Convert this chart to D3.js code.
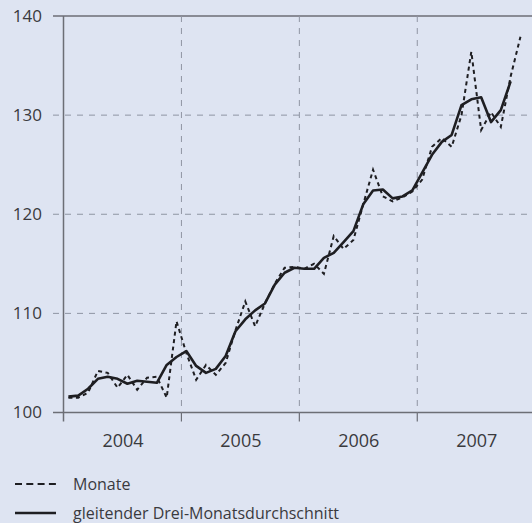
<!DOCTYPE html>
<html>
<head>
<meta charset="utf-8">
<script src="https://cdn.jsdelivr.net/npm/d3@7"></script>
<style>
  html, body { margin: 0; padding: 0; background: #dee4f2; }
  svg { display: block; }
  text { font-family: "Open Sans", sans-serif; fill: #3a3a3e; }
</style>
</head>
<body>
<svg id="chart" width="532" height="523"></svg>
<script>
// ---- data ----
const years = ["2004", "2005", "2006", "2007"];
const yTicks = [100, 110, 120, 130, 140];
// monthly values, Jan 2004 – Nov 2007
const monate = [
  101.5, 101.5, 102.0, 104.2, 104.0, 102.5, 103.8, 102.3, 103.5, 103.6, 101.5, 109.2,
  106.0, 103.3, 104.8, 103.8, 105.0, 108.3, 111.2, 108.7, 111.0, 113.0, 114.6, 114.7,
  114.5, 115.0, 114.0, 117.8, 116.5, 117.4, 121.0, 124.5, 121.8, 121.3, 121.7, 122.3,
  123.5, 126.8, 127.7, 126.8, 130.0, 136.4, 128.5, 130.3, 128.8, 133.9, 137.9
];
// three-month moving average, Jan 2004 – Oct 2007
const durchschnitt = [
  101.6, 101.7, 102.4, 103.4, 103.6, 103.4, 102.9, 103.2, 103.1, 103.0, 104.8, 105.6,
  106.2, 104.7, 104.0, 104.4, 105.7, 108.2, 109.4, 110.3, 111.0, 112.9, 114.1, 114.6,
  114.5, 114.5, 115.6, 116.1, 117.2, 118.3, 121.0, 122.4, 122.5, 121.6, 121.8, 122.4,
  124.2, 126.0, 127.3, 128.0, 131.0, 131.6, 131.8, 129.3, 130.5, 133.4
];
const legendLabels = ["Monate", "gleitender Drei-Monatsdurchschnitt"];

// ---- layout ----
const svg = d3.select("#chart");
const x = d3.scaleLinear().domain([0, 48]).range([63.5, 535.2]);
const y = d3.scaleLinear().domain([100, 140]).range([412.5, 16]);
const axisColor = "#6c6e76";
const gridColor = "#8f95a3";

// horizontal grid lines
const g = svg.append("g");
g.selectAll("line.h").data(yTicks).join("line")
  .attr("x1", 53).attr("x2", 532)
  .attr("y1", d => y(d)).attr("y2", d => y(d))
  .attr("stroke", d => (d === 100 || d === 140) ? axisColor : gridColor)
  .attr("stroke-width", d => (d === 100 || d === 140) ? 1.5 : 1)
  .attr("stroke-dasharray", d => (d === 100 || d === 140) ? null : "6,6");

// vertical year boundaries
g.selectAll("line.v").data(years.slice(1)).join("line")
  .attr("x1", (d, i) => x((i + 1) * 12)).attr("x2", (d, i) => x((i + 1) * 12))
  .attr("y1", y(140)).attr("y2", y(100))
  .attr("stroke", gridColor).attr("stroke-width", 1).attr("stroke-dasharray", "6,6");
g.selectAll("line.vt").data(years.slice(1)).join("line")
  .attr("x1", (d, i) => x((i + 1) * 12)).attr("x2", (d, i) => x((i + 1) * 12))
  .attr("y1", y(100)).attr("y2", y(100) + 9)
  .attr("stroke", axisColor).attr("stroke-width", 1.2);

// y axis line
svg.append("line")
  .attr("x1", x(0)).attr("x2", x(0))
  .attr("y1", y(140)).attr("y2", y(100) + 9)
  .attr("stroke", axisColor).attr("stroke-width", 1.5);

// y axis labels
const yAxis = d3.axisLeft(y).tickValues(yTicks).tickSize(0).tickPadding(0);
const ya = svg.append("g").attr("transform", "translate(42,0)").call(yAxis);
ya.select(".domain").remove();
ya.selectAll("text").style("font-size", "17px").attr("fill", "#3a3a3e")
  .attr("font-family", "Open Sans, sans-serif");

// x axis labels
const xAxis = d3.axisBottom(x).tickValues([6, 18, 30, 42])
  .tickFormat((d, i) => years[i]).tickSize(0).tickPadding(0);
const xa = svg.append("g").attr("transform", `translate(0,${y(100) + 22})`).call(xAxis);
xa.select(".domain").remove();
xa.selectAll("text").style("font-size", "18px").attr("fill", "#3a3a3e")
  .attr("font-family", "Open Sans, sans-serif");

// lines
const line = d3.line().x((d, i) => x(i + 0.5)).y(d => y(d));
svg.append("path").datum(monate).attr("d", line)
  .attr("fill", "none").attr("stroke", "#1e1e22").attr("stroke-width", 2)
  .attr("stroke-dasharray", "4,3.5");
svg.append("path").datum(durchschnitt).attr("d", line)
  .attr("fill", "none").attr("stroke", "#1e1e22").attr("stroke-width", 2.6)
  .attr("stroke-linejoin", "round");

// legend
const lg = svg.append("g");
const ly = [484, 513];
lg.selectAll("line").data(legendLabels).join("line")
  .attr("x1", 15).attr("x2", 56)
  .attr("y1", (d, i) => ly[i]).attr("y2", (d, i) => ly[i])
  .attr("stroke", "#1e1e22")
  .attr("stroke-width", (d, i) => i === 0 ? 2.2 : 2.6)
  .attr("stroke-dasharray", (d, i) => i === 0 ? "7,4.3" : null);
lg.selectAll("text").data(legendLabels).join("text")
  .attr("x", 73).attr("y", (d, i) => ly[i])
  .attr("dy", "0.35em")
  .style("font-size", "16px")
  .text(d => d);
</script>
</body>
</html>
